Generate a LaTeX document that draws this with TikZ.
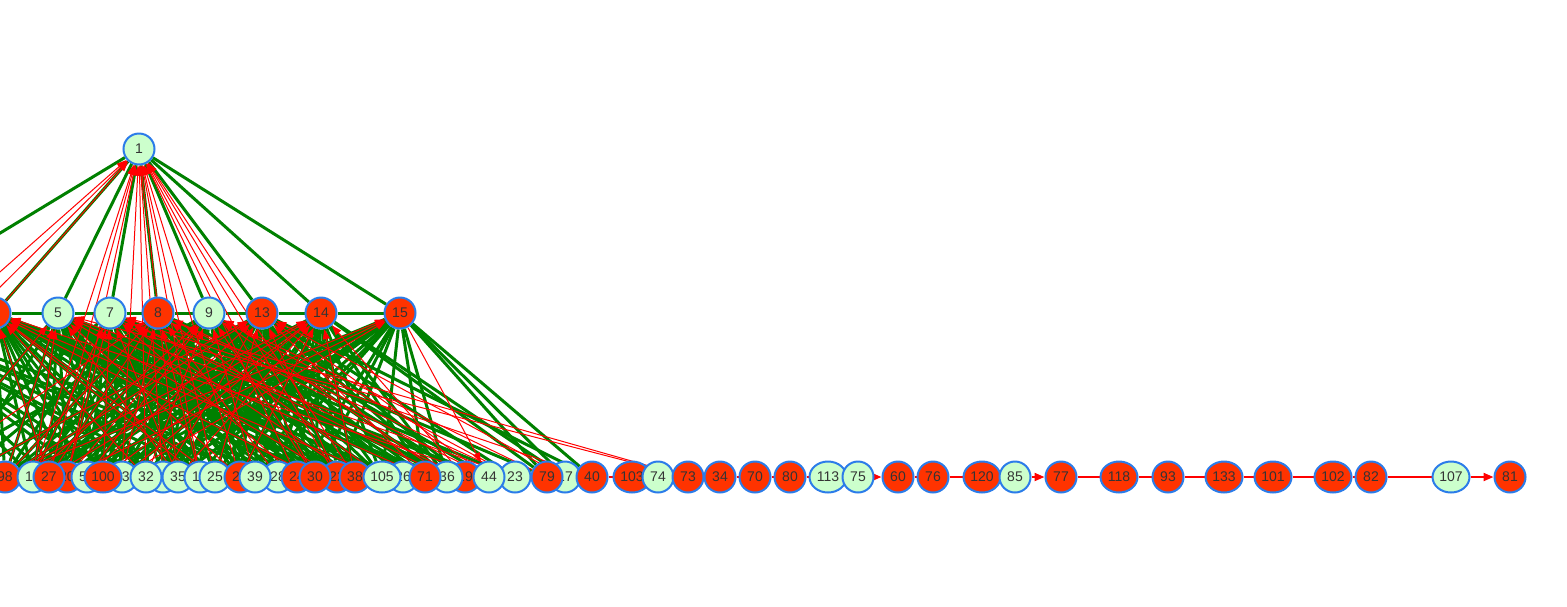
\documentclass[tikz,border=0pt]{standalone}
\usepackage{fontspec}
\setmainfont{Liberation Sans}
\usetikzlibrary{arrows.meta,shapes.geometric}
\pgfdeclarelayer{bg}
\pgfsetlayers{bg,main}
\definecolor{nred}{RGB}{255,51,0}
\definecolor{ngreen}{RGB}{204,255,204}
\definecolor{nborder}{RGB}{43,124,233}
\definecolor{ntext}{RGB}{52,52,52}
\definecolor{egreen}{RGB}{0,128,0}
\definecolor{ered}{RGB}{255,0,0}
\begin{document}
\begin{tikzpicture}[x=0.5pt,y=-0.5pt,
 nd/.style={draw=nborder,line width=1pt,inner sep=0pt,text=ntext,font=\fontsize{7}{8}\selectfont},
 rc/.style={nd,circle,fill=nred,minimum size=15.5pt},
 gc/.style={nd,circle,fill=ngreen,minimum size=15.5pt},
 re/.style={nd,ellipse,fill=nred,minimum width=18.5pt,minimum height=15.5pt},
 ge/.style={nd,ellipse,fill=ngreen,minimum width=18.5pt,minimum height=15.5pt},
 gedge/.style={draw=egreen,line width=1.5pt},
 redge/.style={draw=ered,line width=0.5pt,-{Triangle[length=5pt,width=3.5pt]}},
 chainln/.style={draw=ered,line width=1pt},
 chainarr/.style={chainln,-{Triangle[length=5pt,width=4pt]}}
]
\useasboundingbox (0,0) rectangle (1567,606);
\clip (0,0) rectangle (1567,606);
% off-screen ends
\coordinate (offL) at (-132,313);
\coordinate (oA) at (-232,477);
\coordinate (oB) at (-191,477);
\coordinate (oC) at (-80,477);
\coordinate (oD) at (-40,477);
% top and middle row
\node[gc] (n1) at (139,149) {1};
\node[rc] (m0) at (-5,313) {};
\node[gc] (n5) at (58,313) {5};
\node[gc] (n7) at (110,313) {7};
\node[rc] (n8) at (158,313) {8};
\node[gc] (n9) at (209,313) {9};
\node[rc] (n13) at (262,313) {13};
\node[rc] (n14) at (321,313) {14};
\node[rc] (n15) at (400,313) {15};
% bottom row
\foreach \n/\x/\s/\t in {b98/5/rc/98, b16/33/gc/16, b20/67/rc/20, b27/49/rc/27, b52/87/gc/52,
 b33/122/gc/33, b100/103/re/100, b21/163/gc/21, b32/146/gc/32, b35/178/gc/35, b18/200/gc/18,
 b25/215/gc/25, b29/240/rc/29, b28/278/gc/28, b39/255/gc/39, b24/297/rc/24, b22/337/rc/22,
 b30/315/rc/30, b38/355/rc/38, b26/403/gc/26, b105/382/ge/105, b19/465/rc/19, b36/447/gc/36,
 b71/425/rc/71, b23/515/gc/23, b44/489/gc/44, b17/565/gc/17, b79/547/rc/79, b40/592/rc/40,
 b103/632/re/103, b74/658/gc/74, b73/688/rc/73, b34/720/rc/34, b70/755/rc/70, b80/790/rc/80,
 b113/828/ge/113, b75/858/gc/75, b60/898/rc/60, b76/933/rc/76, b120/982/re/120, b85/1015/gc/85,
 b77/1061/rc/77, b118/1119/re/118, b93/1168/rc/93, b133/1224/re/133, b101/1273/re/101,
 b102/1333/re/102, b82/1371/rc/82, b107/1451/ge/107, b81/1510/rc/81}
 \node[\s] (\n) at (\x,477) {\t};
\begin{pgfonlayer}{bg}
\clip (0,0) rectangle (1567,606);
% green: middle row
\foreach \a/\b in {m0/n5,n5/n7,n7/n8,n8/n9,n9/n13,n13/n14,n14/n15}
 \draw[gedge] (\a) -- (\b);
% green: top to middle
\foreach \b in {offL,m0,n5,n7,n8,n9,n13,n14,n15}
 \draw[gedge] (n1) -- (\b);
% green: middle to bottom
\foreach \m/\L in {
 m0/{b98,b16,b27,b52,b33,b21,b18,b29,b28,b30,b38,b26,b36,b20,b100,b32,b25,b24,b22,b105},
 n5/{b98,b20,b100,b32,b35,b25,b39,b24,b22,b105,b71,b19,b44,b16,b27,b33,b18,b28,b30,b38,oC,oD},
 n7/{b16,b27,b52,b33,b21,b18,b29,b28,b30,b38,b36,b23,b98,b20,b100,b35,b39,b22,b105,b71,oC},
 n8/{b98,b20,b100,b32,b35,b25,b39,b24,b22,b105,b71,b79,b16,b27,b52,b21,b18,b29,b30,b36,oD},
 n9/{b16,b27,b52,b33,b21,b18,b29,b28,b30,b38,b26,b36,b44,b98,b100,b35,b24,b22,b105,b71,b19,oC},
 n13/{b98,b20,b100,b32,b35,b25,b39,b24,b22,b105,b19,b23,b40,b16,b27,b33,b21,b29,b28,b30,b38,b36,oD},
 n14/{b16,b27,b52,b33,b21,b18,b29,b28,b30,b38,b36,b79,b17,b98,b20,b32,b25,b39,b24,b22,b105,b71},
 n15/{b98,b20,b100,b32,b35,b25,b39,b24,b22,b105,b71,b36,b79,b17,b40,b16,b52,b21,b29,b30},
 offL/{b16,b52,b21,b25,b28,b22,b98,b33,b27,b100,b35,b39}}
 {\foreach \b in \L {\draw[gedge] (\m) -- (\b);}}
% red: to top
\foreach \b in {oA,oB,m0,b16,b27,b20,b33,b32,b21,b18,b25,b29,b24,b30,b22,b38,b35}
 \draw[redge] (\b) -- (n1);
% red: bottom to middle
\foreach \m/\L in {
 m0/{b27,b32,b25,b30,b105,b44,b18},
 n5/{b98,b29,b22,b71,b73,b16,b35,oC},
 n7/{b16,b100,b35,b24,b38,b19,b73,b40,b20},
 n8/{b27,b33,b18,b28,b105,b23,oC,b98},
 n9/{b20,b32,b39,b30,b36,b79,b16,b52},
 n13/{b52,b21,b25,b22,b71,b44,b17,oD,b98},
 n14/{b98,b100,b35,b29,b38,b19,b27,b33},
 n15/{b98,b33,b20}}
 {\foreach \b in \L {\draw[redge] (\b) -- (\m);}}
% red: middle to bottom
\foreach \a/\b in {n15/b44,n8/b44,n9/b23,n7/b36,n5/b23}
 \draw[redge] (\a) -- (\b);
% red chain on bottom row
\foreach \a/\b in {b40/b103,b103/b74,b74/b73,b73/b34,b34/b70,b70/b80,b80/b113,b113/b75,
 b60/b76,b76/b120,b120/b85,b77/b118,b118/b93,b93/b133,b133/b101,b101/b102,b102/b82,b82/b107}
 \draw[chainln] (\a) -- (\b);
\draw[chainarr] (b75) -- (b60);
\draw[chainarr] (b85) -- (b77);
\draw[chainarr] (b107) -- (b81);
\end{pgfonlayer}
\end{tikzpicture}
\end{document}
